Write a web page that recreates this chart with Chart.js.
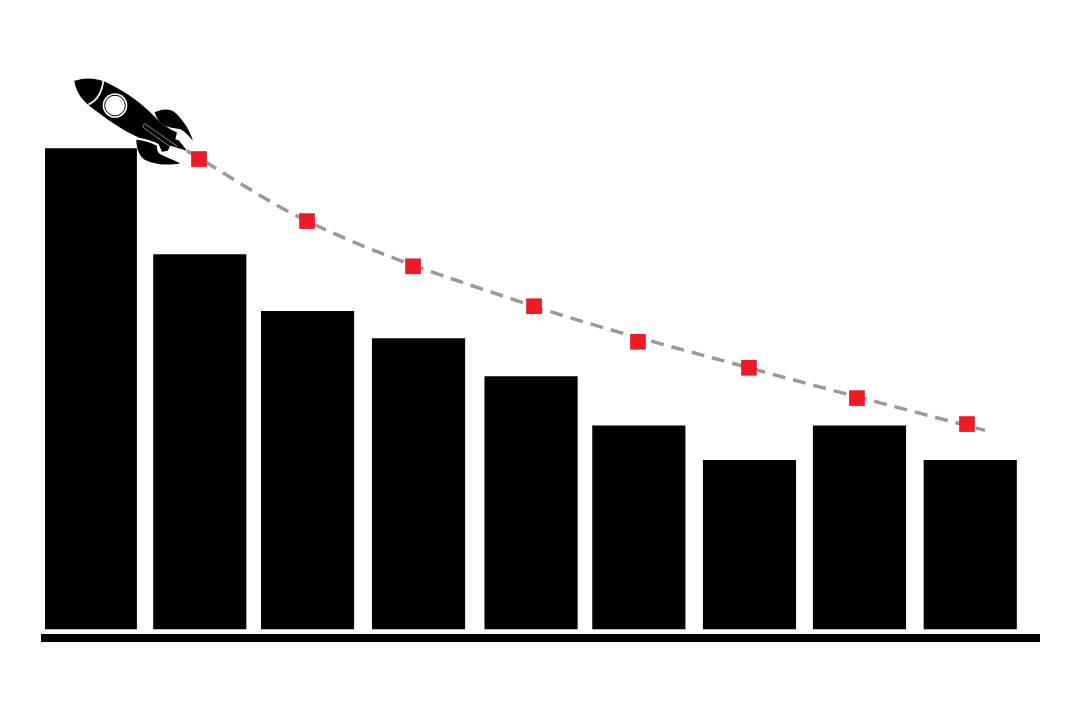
<!DOCTYPE html>
<html>
<head>
<meta charset="utf-8">
<title>Rocket chart</title>
<script src="https://cdn.jsdelivr.net/npm/chart.js@4/dist/chart.umd.min.js"></script>
<style>
  html, body { margin: 0; background: #fff; }
  #wrap { width: 1080px; height: 720px; }
</style>
</head>
<body>
<div id="wrap"><canvas id="chart"></canvas></div>
<script>
// slot numbers are not quite even in the picture, so x is read as a value too
const barSlots = [0.998, 1.993, 2.973, 3.982, 5.005, 5.985, 6.991, 7.991, 8.998];
const barValues = [99.85, 77.85, 66.05, 60.35, 52.5, 42.25, 35.05, 42.25, 35.05];

const markerSlots = [1.986, 2.968, 3.932, 5.032, 5.977, 6.986, 7.968, 8.968];
const markerValues = [97.7, 84.8, 75.4, 67.1, 59.7, 54.3, 48, 42.6];

// dashed trend is a smooth curve running a little past the first and last marker
const trendSlots = [1.877, 2.968, 5.032, 6.986, 9.132];
const trendValues = [99.4, 84.8, 67.1, 54.3, 41.3];

function toPoints(xs, ys) {
  return xs.map(function (x, i) { return { x: x, y: ys[i] }; });
}

// rocket is sketched in its own units, origin at the needle tip, and sits on the trend start
function drawRocket(ctx) {
  ctx.fillStyle = '#000';

  // body
  ctx.beginPath();
  ctx.moveTo(-338, -213);
  ctx.bezierCurveTo(-300, -226, -262, -222, -225, -200);
  ctx.bezierCurveTo(-180, -178, -135, -145, -100, -108);
  ctx.bezierCurveTo(-85, -92, -68, -78, -50, -68);
  ctx.lineTo(-30, -58);
  ctx.lineTo(-35, -38);
  ctx.lineTo(-24, -34);
  ctx.lineTo(0, -3);
  ctx.lineTo(-50, -18);
  ctx.lineTo(-58, -3);
  ctx.lineTo(-75, 0);
  ctx.lineTo(-85, -23);
  ctx.bezierCurveTo(-100, -32, -125, -38, -145, -43);
  ctx.bezierCurveTo(-200, -68, -250, -105, -295, -140);
  ctx.bezierCurveTo(-320, -160, -334, -185, -338, -213);
  ctx.closePath();
  ctx.fill();

  // upper fin
  ctx.beginPath();
  ctx.moveTo(-97, -118);
  ctx.bezierCurveTo(-80, -128, -50, -134, -30, -113);
  ctx.bezierCurveTo(-10, -92, 10, -62, 18, -33);
  ctx.bezierCurveTo(5, -50, -8, -62, -20, -68);
  ctx.lineTo(-50, -73);
  ctx.bezierCurveTo(-70, -78, -90, -92, -97, -118);
  ctx.closePath();
  ctx.fill();

  // lower fin
  ctx.beginPath();
  ctx.moveTo(-152, -36);
  ctx.bezierCurveTo(-130, -34, -110, -28, -90, -18);
  ctx.bezierCurveTo(-92, -6, -88, 2, -80, 7);
  ctx.bezierCurveTo(-62, 16, -38, 24, -20, 35);
  ctx.bezierCurveTo(-40, 39, -62, 39, -80, 37);
  ctx.bezierCurveTo(-105, 33, -125, 28, -135, 17);
  ctx.bezierCurveTo(-146, 4, -152, -15, -152, -36);
  ctx.closePath();
  ctx.fill();

  // nose ring line
  ctx.strokeStyle = '#fff';
  ctx.lineWidth = 5;
  ctx.beginPath();
  ctx.moveTo(-296, -142);
  ctx.quadraticCurveTo(-255, -160, -250, -222);
  ctx.stroke();

  // porthole
  ctx.fillStyle = '#fff';
  ctx.beginPath();
  ctx.arc(-216, -139, 37, 0, Math.PI * 2);
  ctx.fill();
  ctx.strokeStyle = '#000';
  ctx.lineWidth = 3;
  ctx.beginPath();
  ctx.arc(-216, -139, 31, 0, Math.PI * 2);
  ctx.stroke();

  // long thin hull slot
  ctx.strokeStyle = '#c8c8c8';
  ctx.lineWidth = 2;
  ctx.beginPath();
  ctx.moveTo(-126, -84);
  ctx.lineTo(-31, -18);
  ctx.lineTo(-41, -8);
  ctx.lineTo(-131, -73);
  ctx.quadraticCurveTo(-135, -80, -126, -84);
  ctx.stroke();
}

const rocketPlugin = {
  id: 'rocket',
  afterDatasetsDraw: function (chart) {
    const ctx = chart.ctx;
    const px = chart.scales.x.getPixelForValue(trendSlots[0]);
    const py = chart.scales.y.getPixelForValue(trendValues[0]);
    ctx.save();
    ctx.translate(px, py + 1);
    ctx.scale(1 / 3, 1 / 3);
    drawRocket(ctx);
    ctx.restore();
  }
};

new Chart(document.getElementById('chart'), {
  data: {
    datasets: [
      {
        type: 'scatter',
        data: toPoints(markerSlots, markerValues),
        pointStyle: 'rect',
        pointRadius: 11.1,
        pointHoverRadius: 11.1,
        pointBackgroundColor: '#ed1c24',
        pointBorderWidth: 0,
        order: 1
      },
      {
        type: 'line',
        data: toPoints(trendSlots, trendValues),
        borderColor: '#999999',
        borderWidth: 3.5,
        borderDash: [13, 8],
        cubicInterpolationMode: 'monotone',
        pointRadius: 0,
        fill: false,
        order: 2
      },
      {
        type: 'bar',
        data: toPoints(barSlots, barValues),
        backgroundColor: '#000000',
        barThickness: 92.5,
        order: 3
      }
    ]
  },
  options: {
    responsive: true,
    maintainAspectRatio: false,
    animation: false,
    layout: { padding: { left: 45, right: 41, top: 20, bottom: 74 } },
    plugins: {
      legend: { display: false },
      tooltip: { enabled: false }
    },
    scales: {
      x: {
        type: 'linear',
        offset: false,
        min: 0.586,
        max: 9.623,
        grid: { display: false },
        ticks: { display: false },
        border: { display: true, color: '#000000', width: 8 }
      },
      y: {
        display: false,
        min: -1.87,
        max: 126.6
      }
    }
  },
  plugins: [rocketPlugin]
});
</script>
</body>
</html>
